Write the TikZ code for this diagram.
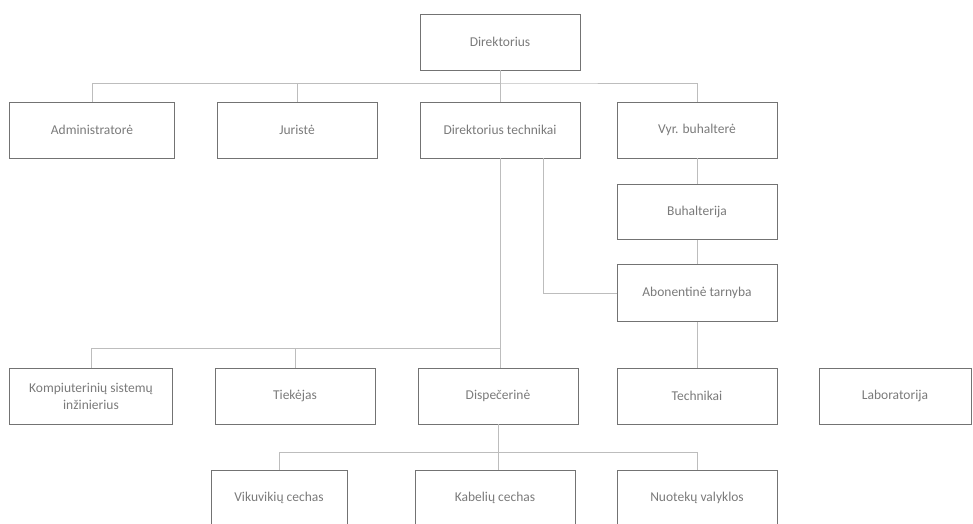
\documentclass[tikz,border=0pt]{standalone}
\usepackage{fontspec}
\setmainfont{Carlito}
\usepackage{tikz}
\definecolor{boxgray}{gray}{0.45}
\definecolor{linkgray}{gray}{0.74}
\definecolor{textgray}{gray}{0.48}

\begin{document}
\begin{tikzpicture}[x=1pt, y=-1pt,
    box/.style={draw=boxgray, line width=0.9pt, minimum width=160pt, minimum height=56pt,
      inner sep=2pt, text=textgray, font=\fontsize{13.5}{17}\selectfont, align=center},
    link/.style={draw=linkgray, line width=0.9pt}]
    \useasboundingbox (0,0) rectangle (973,523);
    \node[box] (dir) at (500,42) {Direktorius};
    \node[box, minimum width=165pt] (adm) at (92,130) {Administratorė};
    \node[box] (jur) at (297,130) {Juristė};
    \node[box] (dirt) at (500,130) {Direktorius technikai};
    \node[box] (vyr) at (697,130) {Vyr. buhalterė};
    \node[box, minimum height=55pt] (buh) at (697,212) {Buhalterija};
    \node[box, minimum height=57pt] (abon) at (697,293) {Abonentinė tarnyba};
    \node[box, minimum width=163pt, anchor=north] (komp) at (91,368) {Kompiuterinių sistemų\\inžinierius};
    \node[box] (tiek) at (295,396) {Tiekėjas};
    \node[box] (disp) at (498,396) {Dispečerinė};
    \node[box] (tech) at (697,396) {Technikai};
    \node[box, minimum width=152pt] (lab) at (895,396) {Laboratorija};
    \node[box, minimum width=136pt] (vik) at (279,498) {Vikuvikių cechas};
    \node[box] (kab) at (495,498) {Kabelių cechas};
    \node[box] (nuot) at (697,498) {Nuotekų valyklos};
    \coordinate (top) at (500,83);
    \coordinate (mid) at (500,348);
    \coordinate (low) at (498,452);
    \draw[link] (dir.south) -- (dirt.north);
    \draw[link] (adm.north) |- (top) -| (vyr.north);
    \draw[link] (jur.north) |- (top);
    \draw[link] (vyr.south) -- (buh.north);
    \draw[link] (buh.south) -- (abon.north);
    \draw[link] (abon.south) -- (tech.north);
    \draw[link] (dirt.south) -- (dirt.south |- disp.north);
    \draw[link] ([xshift=43pt]dirt.south) |- (abon.west);
    \draw[link] (komp.north) |- (mid);
    \draw[link] (tiek.north) |- (mid);
    \draw[link] (disp.south) -- (disp.south |- kab.north);
    \draw[link] (vik.north) |- (low) -| (nuot.north);
\end{tikzpicture}
\end{document}
